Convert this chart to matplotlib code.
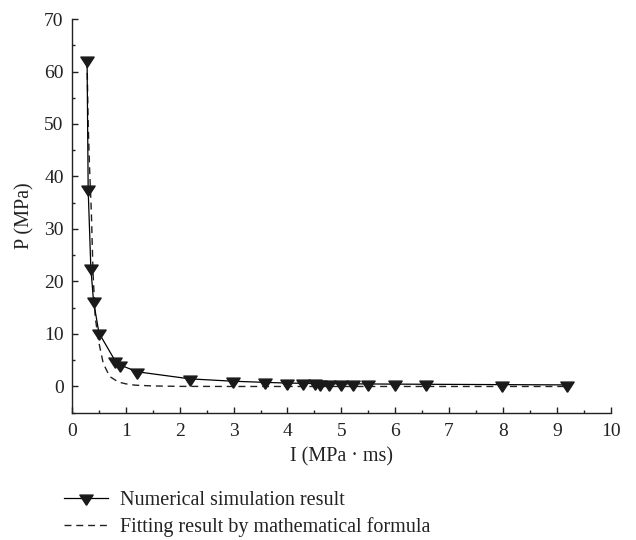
import matplotlib
matplotlib.use("Agg")
import matplotlib.pyplot as plt
from matplotlib.ticker import MultipleLocator

plt.rcParams['font.family'] = ['Liberation Serif', 'DejaVu Serif']

# Numerical simulation result
sim_I = [0.28, 0.30, 0.35, 0.40, 0.50, 0.80, 0.89, 1.21, 2.19, 2.99, 3.59,
         3.99, 4.29, 4.51, 4.61, 4.77, 5.00, 5.22, 5.50, 5.99, 6.58, 7.99, 9.19]
sim_P = [62.2, 37.6, 22.5, 16.2, 10.2, 4.9, 4.1, 2.8, 1.45, 1.0, 0.78,
         0.65, 0.6, 0.57, 0.55, 0.53, 0.5, 0.5, 0.48, 0.45, 0.42, 0.35, 0.3]

# Fitting result by mathematical formula
fit_I = [0.28, 0.30, 0.33, 0.36, 0.39, 0.43, 0.49, 0.58, 0.70, 0.86, 1.00,
         1.17, 1.50, 2.00, 3.00, 4.00, 5.00, 6.00, 7.00, 8.00, 9.20]
fit_P = [62.0, 50.0, 40.5, 33.0, 21.8, 13.3, 8.8, 4.4, 1.9, 0.85, 0.5,
         0.25, 0.1, 0.02, 0.0, 0.0, 0.0, 0.0, 0.0, 0.0, 0.0]

x_label = "I (MPa · ms)"
y_label = "P (MPa)"
legend_labels = ["Numerical simulation result",
                 "Fitting result by mathematical formula"]

fig = plt.figure(figsize=(6.36, 5.40), dpi=100)
ax = fig.add_axes([0.1132, 0.2357, 0.8471, 0.7291])

tri = [(0, -2), (-1.95, 1), (1.95, 1), (0, -2)]

l1, = ax.plot(sim_I, sim_P, color='black', lw=0.9, marker=tri, ms=9.8,
              mfc='#1a1a1a', mec='#1a1a1a', zorder=3)
l2, = ax.plot(fit_I, fit_P, color='#222222', lw=1.0, ls=(0, (5, 3.5)), zorder=2)

ax.set_xlim(0, 10)
ax.set_ylim(-5, 70)
ax.xaxis.set_major_locator(MultipleLocator(1))
ax.xaxis.set_minor_locator(MultipleLocator(0.5))
ax.yaxis.set_major_locator(MultipleLocator(10))
ax.yaxis.set_minor_locator(MultipleLocator(5))
ax.set_yticks(range(0, 71, 10))

for s in ['top', 'right']:
    ax.spines[s].set_visible(False)
for s in ['left', 'bottom']:
    ax.spines[s].set_linewidth(1.0)
    ax.spines[s].set_color('#222222')
ax.spines['left'].set_bounds(-5, 70)

ax.tick_params(which='major', direction='in', length=4, width=1.0,
               labelsize=14, colors='#222222')
ax.tick_params(axis='x', which='major', pad=7.5)
ax.tick_params(axis='y', which='major', pad=6)
ax.tick_params(which='minor', direction='in', length=2.5, width=1.0,
               colors='#222222')

ax.set_xlabel(x_label, fontsize=14.5, labelpad=5, color='#222222')
ax.set_ylabel(y_label, fontsize=14.5, labelpad=7, color='#222222')

fig.legend([l1, l2], legend_labels, loc='upper left',
           bbox_to_anchor=(0.100, 0.091), frameon=False, fontsize=14.5,
           handlelength=2.2, handletextpad=0.6, labelspacing=0.37,
           borderpad=0, borderaxespad=0, labelcolor='#222222')

fig.savefig("out.png", dpi=100)
